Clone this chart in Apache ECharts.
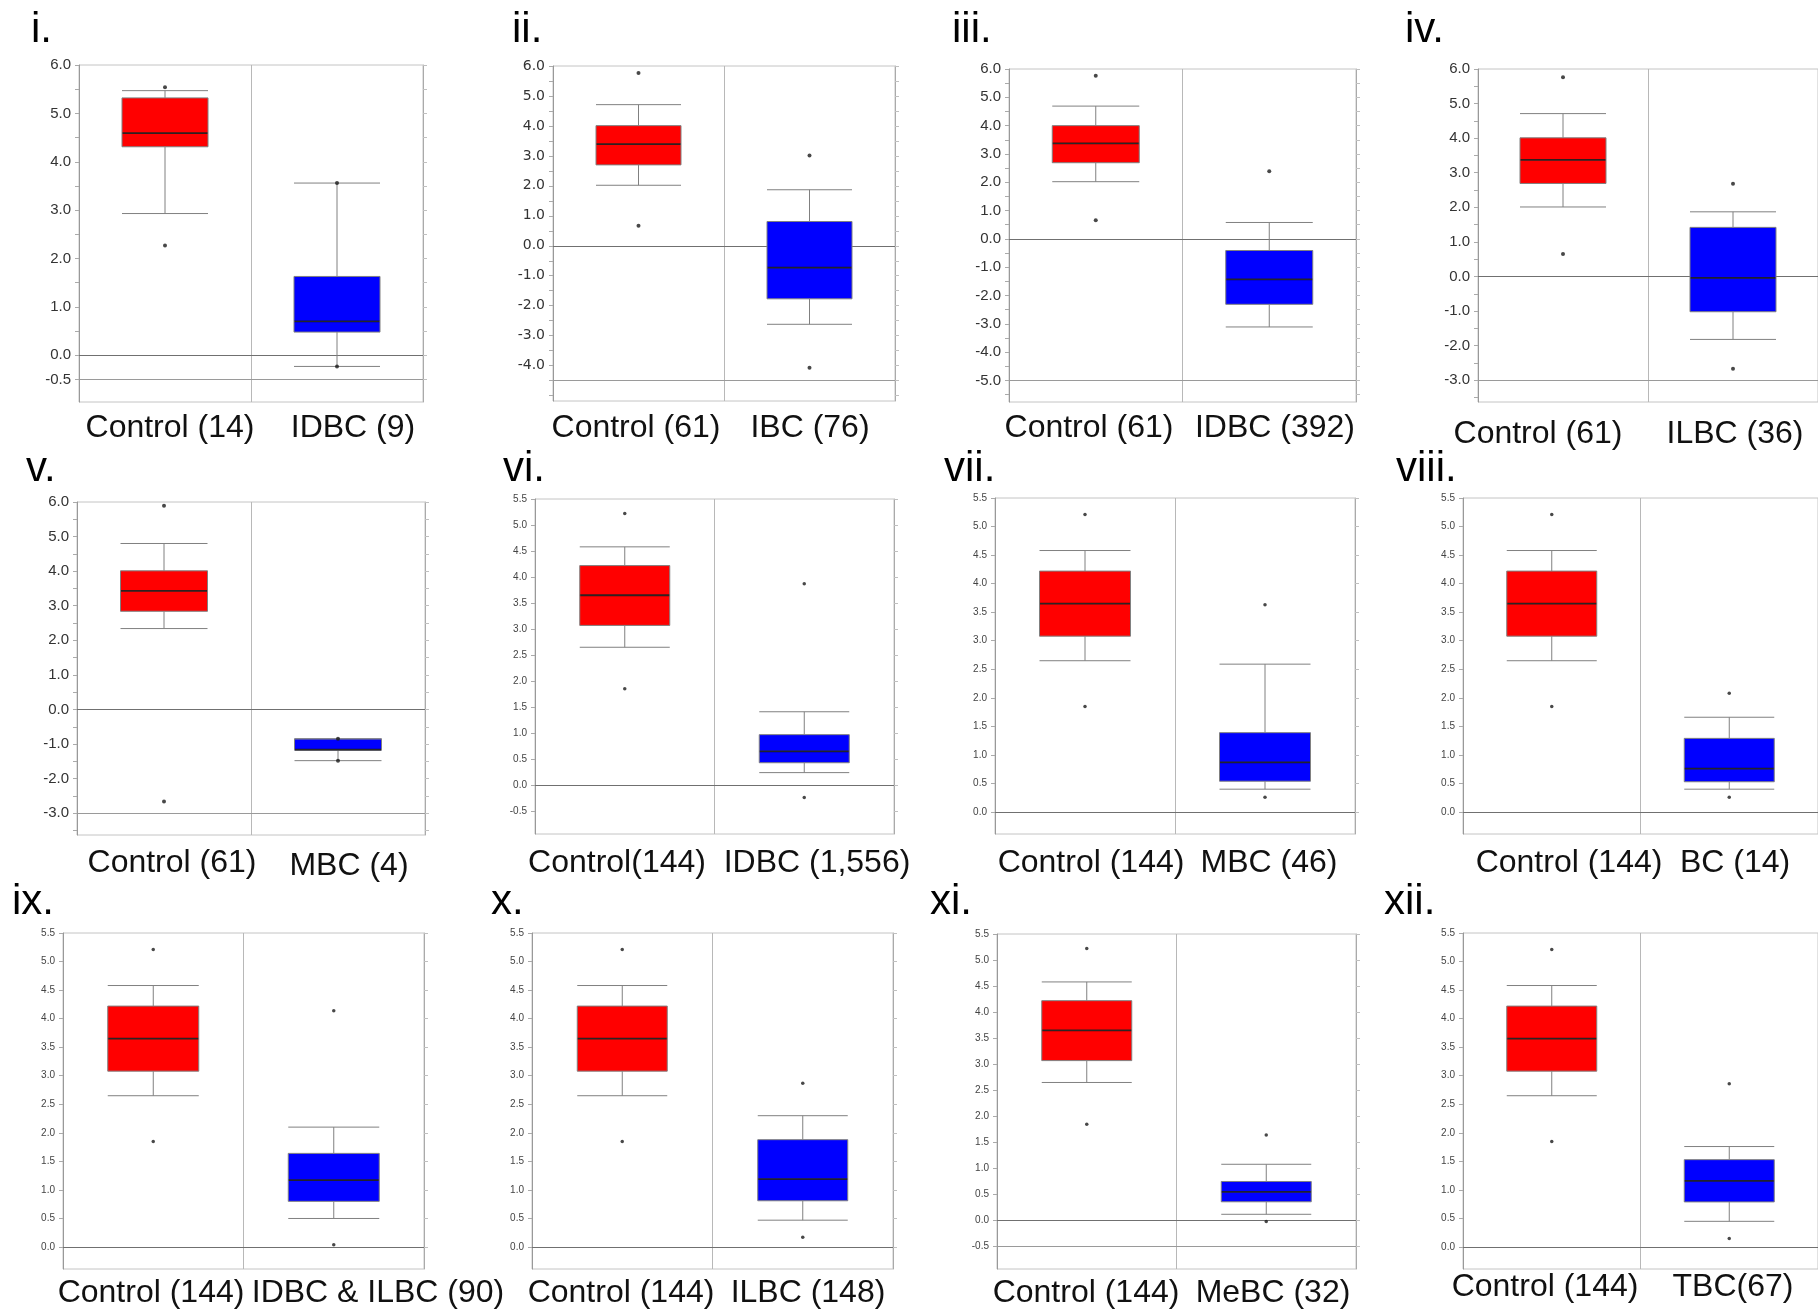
<!DOCTYPE html>
<html><head><meta charset="utf-8">
<script src="https://cdn.jsdelivr.net/npm/echarts@6/dist/echarts.min.js"></script>
<style>html,body{margin:0;padding:0;background:#fff}#c{width:1818px;height:1310px}</style>
</head><body><div id="c"></div>
<script>
// ---------------- DATA ----------------
const panelNames = ['i.','ii.','iii.','iv.','v.','vi.','vii.','viii.','ix.','x.','xi.','xii.'];
const groupNames = [
  ['Control (14)','IDBC (9)'],
  ['Control (61)','IBC (76)'],
  ['Control (61)','IDBC (392)'],
  ['Control (61)','ILBC (36)'],
  ['Control (61)','MBC (4)'],
  ['Control(144)','IDBC (1,556)'],
  ['Control (144)','MBC (46)'],
  ['Control (144)','BC (14)'],
  ['Control (144)','IDBC & ILBC (90)'],
  ['Control (144)','ILBC (148)'],
  ['Control (144)','MeBC (32)'],
  ['Control (144)','TBC(67)']
];
// [lower whisker, Q1, median, Q3, upper whisker]
const controlStats = [
  [2.93,4.31,4.59,5.32,5.47],
  [2.02,2.70,3.39,4.01,4.71],
  [2.02,2.69,3.37,4.00,4.69],
  [2.01,2.69,3.37,4.01,4.71],
  [2.34,2.84,3.43,4.01,4.80],
  [2.65,3.07,3.65,4.22,4.58],
  [2.65,3.08,3.65,4.22,4.58],
  [2.65,3.08,3.65,4.22,4.58],
  [2.65,3.08,3.65,4.22,4.58],
  [2.65,3.08,3.65,4.22,4.58],
  [2.65,3.07,3.65,4.22,4.58],
  [2.65,3.08,3.65,4.22,4.58]
];
const controlOutliers = [
  [5.54,2.27],[5.77,0.67],[5.76,0.66],[5.76,0.65],[5.89,-2.66],
  [5.22,1.85],[5.21,1.85],[5.21,1.85],[5.21,1.85],[5.21,1.85],[5.22,1.85],[5.21,1.85]
];
const diseaseStats = [
  [-0.23,0.48,0.70,1.63,3.56],
  [-2.62,-1.77,-0.73,0.81,1.87],
  [-3.11,-2.31,-1.43,-0.41,0.58],
  [-1.82,-1.02,-0.04,1.42,1.87],
  [-1.48,-1.18,-1.16,-0.85,-0.85],
  [0.24,0.43,0.65,0.97,1.41],
  [0.40,0.54,0.87,1.39,2.59],
  [0.40,0.53,0.76,1.29,1.66],
  [0.50,0.80,1.17,1.64,2.10],
  [0.47,0.81,1.19,1.88,2.30],
  [0.12,0.36,0.55,0.75,1.08],
  [0.45,0.79,1.16,1.53,1.76]
];
const diseaseOutliers = [
  [3.56,-0.23],[3.01,-4.07],[2.39],[2.68,-2.67],[-0.85,-1.48],
  [3.87,-0.24],[3.63,0.26],[2.08,0.26],[4.14,0.04],[2.87,0.17],[1.64,-0.02],[2.86,0.15]
];
const yTickLabels = [
  [-0.5,0,1,2,3,4,5,6],
  [-4,-3,-2,-1,0,1,2,3,4,5,6],
  [-5,-4,-3,-2,-1,0,1,2,3,4,5,6],
  [-3,-2,-1,0,1,2,3,4,5,6],
  [-3,-2,-1,0,1,2,3,4,5,6],
  [-0.5,0,0.5,1,1.5,2,2.5,3,3.5,4,4.5,5,5.5],
  [0,0.5,1,1.5,2,2.5,3,3.5,4,4.5,5,5.5],
  [0,0.5,1,1.5,2,2.5,3,3.5,4,4.5,5,5.5],
  [0,0.5,1,1.5,2,2.5,3,3.5,4,4.5,5,5.5],
  [0,0.5,1,1.5,2,2.5,3,3.5,4,4.5,5,5.5],
  [-0.5,0,0.5,1,1.5,2,2.5,3,3.5,4,4.5,5,5.5],
  [0,0.5,1,1.5,2,2.5,3,3.5,4,4.5,5,5.5]
];
const extraLines = [[-0.5],[-4.5],[-5],[-3],[-3],[],[],[],[],[],[-0.5],[]];

// ---------------- LAYOUT ----------------
const layout = [
  {l:79,  t:65,  w:344, h:337, min:-0.965, max:6,   bw:86, big:true,  rn:[31,30],   lab:[[170,428],[353,428]]},
  {l:553, t:66,  w:342, h:335, min:-5.18,  max:6,   bw:85, big:true,  rn:[512,30],  lab:[[636,428],[810,428]], ff:'DejaVu Sans', fs:14},
  {l:1009,t:69,  w:347, h:333, min:-5.76,  max:6,   bw:87, big:true,  rn:[952,30],  lab:[[1089,428],[1275,428]]},
  {l:1478,t:69,  w:348, h:333, min:-3.63,  max:6,   bw:86, big:true,  rn:[1405,30], lab:[[1538,434],[1735,434]]},
  {l:77,  t:502, w:348, h:333, min:-3.63,  max:6,   bw:87, big:true,  rn:[26,469],  lab:[[172,863],[349,866]]},
  {l:535, t:499, w:359, h:335, min:-0.94,  max:5.5, bw:90, big:false, rn:[503,469], lab:[[617,863],[817,863]]},
  {l:995, t:498, w:360, h:336, min:-0.385, max:5.5, bw:91, big:false, rn:[944,469], lab:[[1091,863],[1269,863]]},
  {l:1463,t:498, w:360, h:336, min:-0.385, max:5.5, bw:90, big:false, rn:[1396,469],lab:[[1569,863],[1735,863]]},
  {l:63,  t:933, w:361, h:336, min:-0.385, max:5.5, bw:91, big:false, rn:[12,902],  lab:[[151,1293],[378,1293]]},
  {l:532, t:933, w:361, h:336, min:-0.385, max:5.5, bw:90, big:false, rn:[491,902], lab:[[621,1293],[808,1293]]},
  {l:997, t:934, w:359, h:335, min:-0.93,  max:5.5, bw:90, big:false, rn:[930,902], lab:[[1086,1293],[1273,1293]]},
  {l:1463,t:933, w:360, h:336, min:-0.385, max:5.5, bw:90, big:false, rn:[1384,902],lab:[[1545,1287],[1733,1287]]}
];

function halfSteps(min, max){
  const out=[]; for(let v=Math.ceil(min*2)/2; v<=max+1e-9; v+=0.5) out.push(Math.round(v*10)/10); return out;
}

const grid=[], xAxis=[], yAxis=[], series=[], graphic=[];
layout.forEach((p,i)=>{
  grid.push({left:p.l, top:p.t, width:p.w, height:p.h, show:true, borderColor:'#c4c4c4', borderWidth:1, backgroundColor:'rgba(0,0,0,0)'});
  xAxis.push({type:'category', gridIndex:i, data:groupNames[i], boundaryGap:true,
    axisLine:{show:true, lineStyle:{color:'#8c8c8c', width:1}}, axisTick:{show:false}, axisLabel:{show:false},
    splitLine:{show:true, lineStyle:{color:'#b8b8b8', width:1}}});
  const ticks = halfSteps(p.min, p.max);
  const labFont = p.big ? {fontSize:p.fs||15, fontFamily:p.ff||'Liberation Sans', color:'#333'} : {fontSize:10, fontFamily:'Liberation Sans', color:'#444'};
  yAxis.push({type:'value', gridIndex:i, min:p.min, max:p.max, position:'left',
    axisLine:{show:true, lineStyle:{color:'#999', width:1}},
    axisTick:{show:true, length:4, customValues:ticks, lineStyle:{color:'#aaa'}},
    axisLabel:Object.assign({show:true, margin:8, customValues:yTickLabels[i], formatter:v=>Number(v).toFixed(1)}, labFont),
    splitLine:{show:false}});
  yAxis.push({type:'value', gridIndex:i, min:p.min, max:p.max, position:'right',
    axisLine:{show:true, lineStyle:{color:'#aaa', width:1}},
    axisTick:{show:true, length:4, customValues:ticks, lineStyle:{color:'#c0c0c0'}},
    axisLabel:{show:false}, splitLine:{show:false}});
  const yi = 2*i;
  const ml = [{yAxis:0, lineStyle:{color:'#707070', width:1.2}}].concat(extraLines[i].map(v=>({yAxis:v, lineStyle:{color:'#9a9a9a', width:1}})));
  series.push({type:'boxplot', xAxisIndex:i, yAxisIndex:yi, boxWidth:[p.bw,p.bw], z:3,
    data:[{value:controlStats[i], itemStyle:{color:'#ff0000', borderColor:'#808080', borderWidth:1}},
          {value:diseaseStats[i], itemStyle:{color:'#0000ff', borderColor:'#808080', borderWidth:1}}],
    markLine:{silent:true, symbol:['none','none'], label:{show:false}, z:2, data:ml, lineStyle:{type:'solid'}},
    emphasis:{disabled:true}});
  // median lines
  series.push({type:'scatter', xAxisIndex:i, yAxisIndex:yi, z:4, symbol:'rect', symbolSize:[p.bw-1, 1.8],
    itemStyle:{color:'#111'}, data:[[0, controlStats[i][2]],[1, diseaseStats[i][2]]], emphasis:{disabled:true}});
  const pts = controlOutliers[i].map(v=>[0,v]).concat(diseaseOutliers[i].map(v=>[1,v]));
  series.push({type:'scatter', xAxisIndex:i, yAxisIndex:yi, z:5, symbol:'circle', symbolSize:p.big?4:3.5,
    itemStyle:{color:'#1a1a1a'}, data:pts, emphasis:{disabled:true}});
  graphic.push({type:'text', x:p.rn[0], y:p.rn[1], style:{text:panelNames[i], font:'42px "Liberation Sans"', fill:'#000', align:'left', verticalAlign:'middle'}});
  groupNames[i].forEach((g,k)=>{
    graphic.push({type:'text', x:p.lab[k][0], y:p.lab[k][1], style:{text:g, font:'32px "Liberation Sans"', fill:'#111', align:'center', verticalAlign:'middle'}});
  });
});

const chart = echarts.init(document.getElementById('c'), null, {renderer:'canvas'});
chart.setOption({backgroundColor:'#fff', animation:false, grid, xAxis, yAxis, series, graphic});
</script></body></html>
